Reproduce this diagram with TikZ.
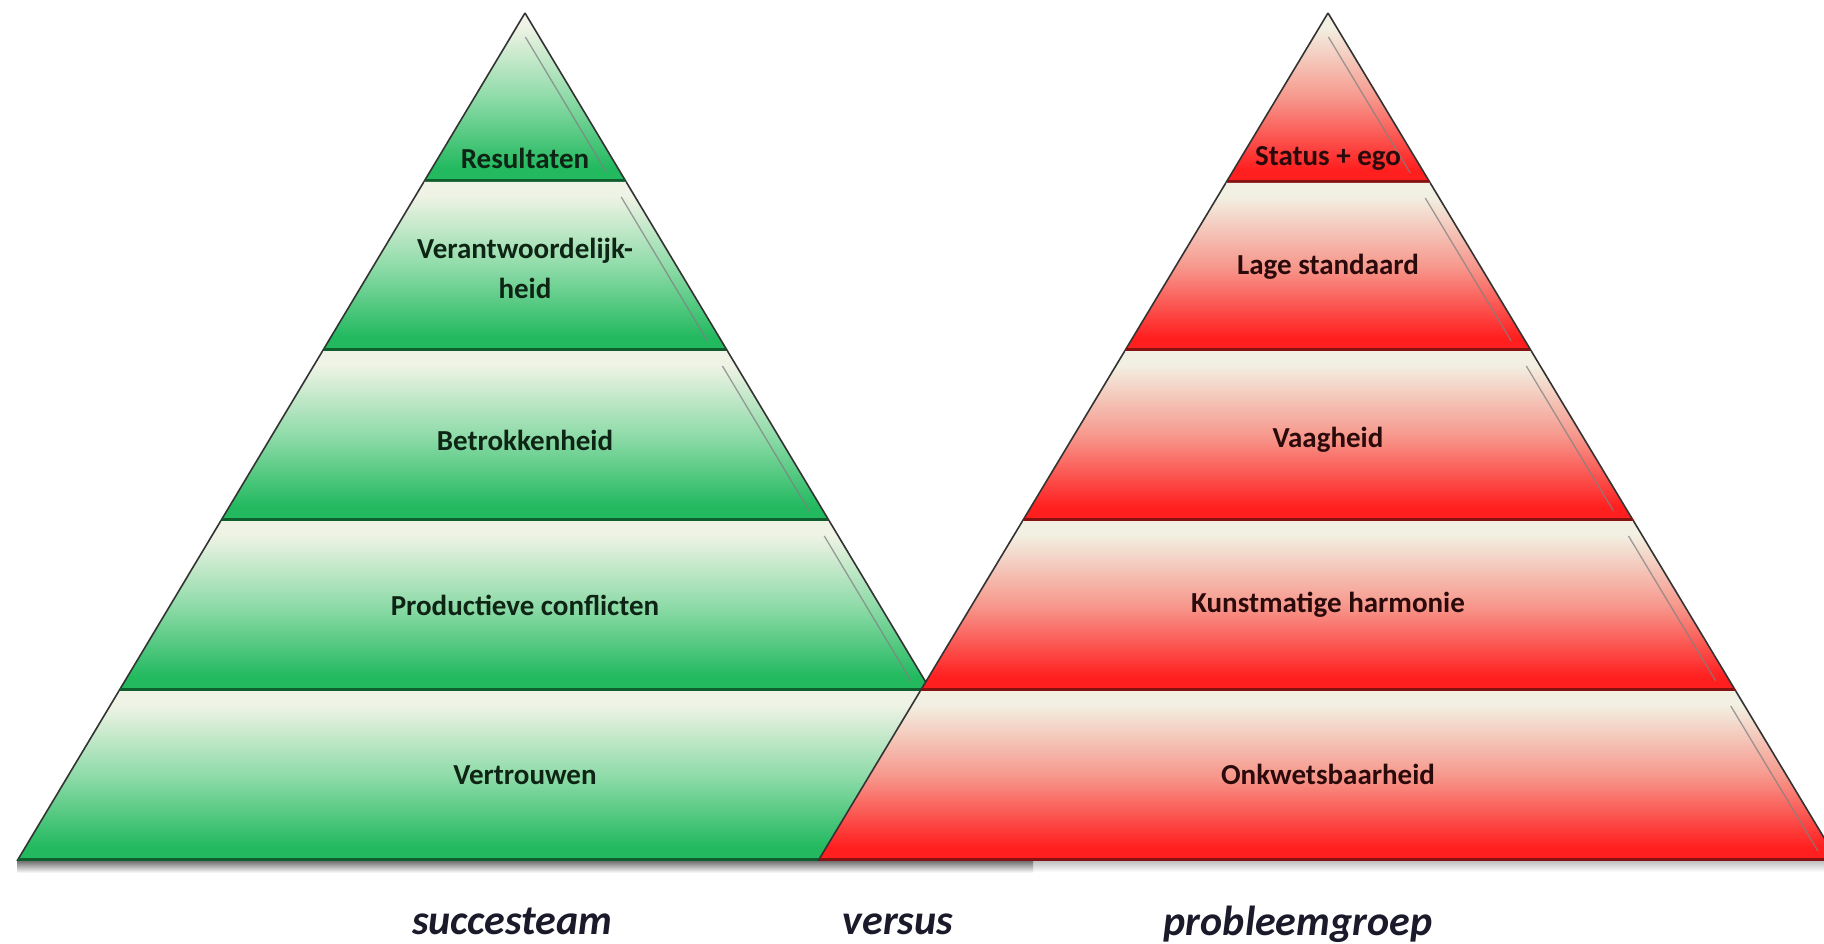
\documentclass[tikz,border=0pt]{standalone}
\usepackage{fontspec}
\setmainfont{Carlito}
\definecolor{gLight}{HTML}{EFF3E5}
\definecolor{gMid}{HTML}{8EDBA8}
\definecolor{gBot}{HTML}{22B95F}
\definecolor{gEdge}{HTML}{0E5E2E}
\definecolor{gText}{HTML}{0E2414}
\definecolor{rLight}{HTML}{F2F0E2}
\definecolor{rMid}{HTML}{F7978C}
\definecolor{rBot}{HTML}{FF1F1F}
\definecolor{rEdge}{HTML}{861212}
\definecolor{rText}{HTML}{2A0A0A}
\definecolor{lblText}{HTML}{1A1A2A}
\pgfdeclareverticalshading{greenlayer}{100bp}{color(0bp)=(gBot); color(25bp)=(gBot); color(29bp)=(gBot); color(50bp)=(gMid); color(71bp)=(gLight); color(75bp)=(gLight); color(100bp)=(gLight)}
\pgfdeclareverticalshading{redlayer}{100bp}{color(0bp)=(rBot); color(25bp)=(rBot); color(29bp)=(rBot); color(50bp)=(rMid); color(71bp)=(rLight); color(75bp)=(rLight); color(100bp)=(rLight)}
\tikzset{
  sideline/.style={draw=black!80, line width=1.6},
  innerline/.style={draw=black!50, line width=1.3, opacity=0.75},
  lyrtxt/.style={font=\fontsize{29}{40}\selectfont\bfseries, align=center, inner sep=0pt},
  bottomlbl/.style={font=\fontsize{42}{48}\selectfont\bfseries\itshape, text=lblText, anchor=base, inner sep=0pt}
}
% #1 apex x, #2 slope, #3 y top, #4 y bottom, #5 shading, #6 edge colour, #7 start offset of inner line
\newcommand{\pyrlayer}[7]{%
  \pgfmathsetmacro{\pTL}{#1-#2*(#3-13)}%
  \pgfmathsetmacro{\pTR}{#1+#2*(#3-13)}%
  \pgfmathsetmacro{\pBL}{#1-#2*(#4-13)}%
  \pgfmathsetmacro{\pBR}{#1+#2*(#4-13)}%
  \shade[shading=#5] (\pTL,#3) -- (\pTR,#3) -- (\pBR,#4) -- (\pBL,#4) -- cycle;
  \draw[sideline] (\pTL,#3) -- (\pBL,#4) (\pTR,#3) -- (\pBR,#4);
  \draw[draw=#6, line width=3.5] (\pBL+1,#4-1.5) -- (\pBR-1,#4-1.5);
  \draw[innerline] (\pTR-14+#2*#7,#3+#7) -- (\pBR-14-#2*10,#4-10);
}
\begin{document}
\begin{tikzpicture}[x=1pt,y=-1pt]
\useasboundingbox (0,0) rectangle (1824,944);
\clip (0,0) rectangle (1824,944);
\fill[white] (0,0) rectangle (1824,944);
% green pyramid
\pyrlayer{525}{0.599}{13}{182}{greenlayer}{gEdge}{24}
\pyrlayer{525}{0.599}{182}{351}{greenlayer}{gEdge}{15}
\pyrlayer{525}{0.599}{351}{521}{greenlayer}{gEdge}{15}
\pyrlayer{525}{0.599}{521}{691}{greenlayer}{gEdge}{15}
\pyrlayer{525}{0.599}{691}{861}{greenlayer}{gEdge}{15}
% red pyramid
\pyrlayer{1328}{0.6014}{13}{183}{redlayer}{rEdge}{24}
\pyrlayer{1328}{0.6014}{183}{351}{redlayer}{rEdge}{15}
\pyrlayer{1328}{0.6014}{351}{521}{redlayer}{rEdge}{15}
\pyrlayer{1328}{0.6014}{521}{691}{redlayer}{rEdge}{15}
\pyrlayer{1328}{0.6014}{691}{861}{redlayer}{rEdge}{15}
% shadows under the bases
\shade[top color=black!25, bottom color=white] (818,861) rectangle (1824,872);
\shade[top color=black!55, bottom color=white] (17,861) rectangle (1033,873);
% layer texts
\node[lyrtxt, text=gText] (g1) at (525,158) {Resultaten};
\node[lyrtxt, text=gText] (g2) at (525,268) {Verantwoordelijk-\\heid};
\node[lyrtxt, text=gText] (g3) at (525,440) {Betrokkenheid};
\node[lyrtxt, text=gText] (g4) at (525,605) {Productieve conflicten};
\node[lyrtxt, text=gText] (g5) at (525,775) {Vertrouwen};
\node[lyrtxt, text=rText] (r1) at (1328,158) {Status + ego};
\node[lyrtxt, text=rText] (r2) at (1328,267) {Lage standaard};
\node[lyrtxt, text=rText] (r3) at (1328,440) {Vaagheid};
\node[lyrtxt, text=rText] (r4) at (1328,605) {Kunstmatige harmonie};
\node[lyrtxt, text=rText] (r5) at (1328,774) {Onkwetsbaarheid};
% bottom labels
\node[bottomlbl] (lblA) at (512,934) {succesteam};
\node[bottomlbl] (lblB) at (898,934) {versus};
\node[bottomlbl] (lblC) at (1298,935) {probleemgroep};
\end{tikzpicture}
\end{document}
